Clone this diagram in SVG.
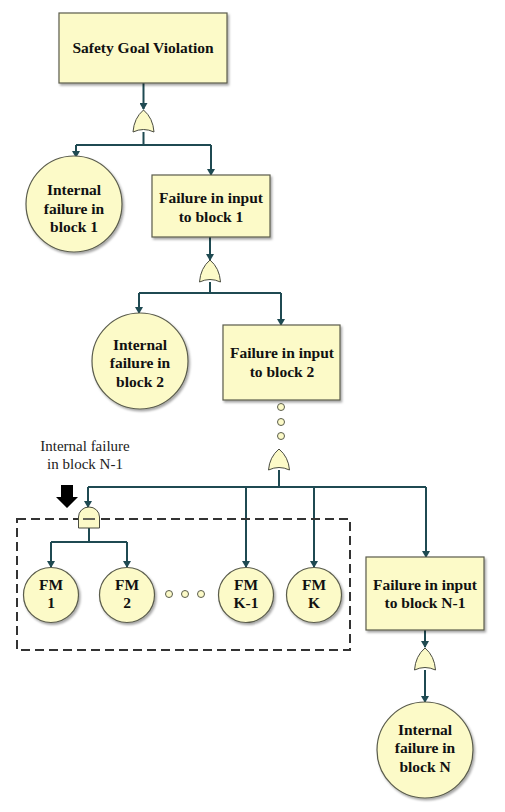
<svg xmlns="http://www.w3.org/2000/svg" width="505" height="812" viewBox="0 0 505 812">
<style>
.n{fill:#fcfac8;stroke:#5a5c4c;stroke-width:1.2;filter:url(#sh)}
.g{fill:#fcfac8;stroke:#4a4c40;stroke-width:1}
.t{font-family:"Liberation Serif","Times New Roman",serif;font-weight:bold;font-size:15.5px;fill:#111;text-anchor:middle}
.l{font-family:"Liberation Serif","Times New Roman",serif;font-size:15px;fill:#222;text-anchor:middle}
.c{fill:none;stroke:#1f4a52;stroke-width:2}
.a{stroke:#1f4a52;stroke-width:2;fill:none;marker-end:url(#ar)}
.d{fill:#fcfac8;stroke:#5a5c4c;stroke-width:1}
</style>
<defs>
<filter id="sh" x="-20%" y="-20%" width="150%" height="150%"><feDropShadow dx="1.5" dy="2" stdDeviation="1.2" flood-color="#000" flood-opacity="0.35"/></filter>
<marker id="ar" markerWidth="8" markerHeight="8" refX="6" refY="4" orient="auto" markerUnits="userSpaceOnUse"><path d="M0,0 L7,4 L0,8 Z" fill="#1f4a52"/></marker>
</defs>
<rect width="505" height="812" fill="#fff"/>
<g id="connectors">
<path class="a" d="M143.5,83 V109"/>
<path class="c" d="M143.5,132 V145 M76,145 H211"/>
<path class="a" d="M76,145 V157"/>
<path class="a" d="M211,145 V175"/>
<path class="a" d="M210,237 V260"/>
<path class="c" d="M210,282 V293 M139,293 H281"/>
<path class="a" d="M139,293 V313"/>
<path class="a" d="M281,293 V325"/>
<path class="c" d="M279,470 V487 M88,487 H426"/>
<path class="a" d="M88,487 V507"/>
<path class="a" d="M246,487 V567"/>
<path class="a" d="M314,487 V567"/>
<path class="a" d="M426,487 V557"/>
<path class="c" d="M89,528 V542 M51,542 H127"/>
<path class="a" d="M51,542 V567"/>
<path class="a" d="M127,542 V567"/>
<path class="a" d="M425,630 V647"/>
<path class="a" d="M425,670 V702"/>
</g>
<g id="top"><rect class="n" x="59" y="13" width="168" height="70"/><text class="t" x="143" y="53">Safety Goal Violation</text></g>
<g id="or1"><path class="g" d="M133,132 Q134,118 143.5,110 Q153,118 154,132 Q143.5,127 133,132 Z"/></g>
<g id="int1"><circle class="n" cx="74" cy="204" r="48"/><text class="t" x="74" y="195">Internal</text><text class="t" x="74" y="214">failure in</text><text class="t" x="74" y="232">block 1</text></g>
<g id="in1"><rect class="n" x="152" y="175" width="118" height="62"/><text class="t" x="211" y="203">Failure in input</text><text class="t" x="211" y="222">to block 1</text></g>
<g id="or2"><path class="g" d="M199.5,282 Q200.5,268 210,260 Q219.5,268 220.5,282 Q210,277 199.5,282 Z"/></g>
<g id="int2"><circle class="n" cx="140" cy="361" r="48"/><text class="t" x="140" y="350">Internal</text><text class="t" x="140" y="368">failure in</text><text class="t" x="140" y="387">block 2</text></g>
<g id="in2"><rect class="n" x="223" y="325" width="117" height="75"/><text class="t" x="282" y="358">Failure in input</text><text class="t" x="282" y="377">to block 2</text></g>
<g id="vdots"><circle class="d" cx="281" cy="407" r="3.5"/><circle class="d" cx="281" cy="422" r="3.5"/><circle class="d" cx="281" cy="436" r="3.5"/></g>
<g id="or3"><path class="g" d="M268.5,470 Q269.5,457 279,449 Q288.5,457 289.5,470 Q279,465 268.5,470 Z"/></g>
<g id="label"><text class="l" x="85" y="451">Internal failure</text><text class="l" x="85" y="469">in block N-1</text></g>
<g id="bigarrow"><path d="M61,485 H73 V497 H78 L67,508 L56,497 H61 Z" fill="#000"/></g>
<g id="box"><rect x="17" y="519" width="333" height="131" fill="none" stroke="#333" stroke-width="2" stroke-dasharray="9,5"/></g>
<g id="and1"><path class="g" d="M78.5,528 V517 A10.5,10 0 0 1 99.5,517 V528 Z"/><path d="M83,519 H95" stroke="#333" stroke-width="1.5"/></g>
<g id="fm1"><circle class="n" cx="51" cy="595" r="27.5"/><text class="t" x="51" y="590">FM</text><text class="t" x="51" y="608">1</text></g>
<g id="fm2"><circle class="n" cx="127" cy="595" r="27.5"/><text class="t" x="127" y="590">FM</text><text class="t" x="127" y="608">2</text></g>
<g id="hdots"><circle class="d" cx="169" cy="594" r="3.5"/><circle class="d" cx="185" cy="594" r="3.5"/><circle class="d" cx="201" cy="594" r="3.5"/></g>
<g id="fmk1"><circle class="n" cx="246" cy="595" r="27.5"/><text class="t" x="246" y="590">FM</text><text class="t" x="246" y="608">K-1</text></g>
<g id="fmk"><circle class="n" cx="314" cy="595" r="27.5"/><text class="t" x="314" y="590">FM</text><text class="t" x="314" y="608">K</text></g>
<g id="inN1"><rect class="n" x="366" y="557" width="118" height="73"/><text class="t" x="425" y="590">Failure in input</text><text class="t" x="425" y="608">to block N-1</text></g>
<g id="or4"><path class="g" d="M414.5,670 Q415.5,656 425,648 Q434.5,656 435.5,670 Q425,665 414.5,670 Z"/></g>
<g id="intN"><circle class="n" cx="425" cy="750" r="48"/><text class="t" x="425" y="735">Internal</text><text class="t" x="425" y="753">failure in</text><text class="t" x="425" y="772">block N</text></g>
</svg>
